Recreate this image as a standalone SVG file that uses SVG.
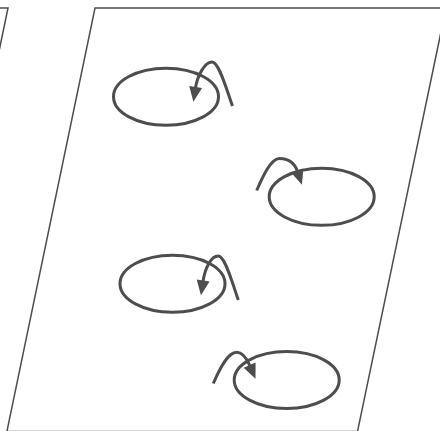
<svg xmlns="http://www.w3.org/2000/svg" width="440" height="431" viewBox="0 0 440 431">
  <style>
    .plane { fill: #ffffff; stroke: #4d4d4d; stroke-width: 1.5; }
    .vortex { fill: none; stroke: #4d4d4d; stroke-width: 3; }
    .flow { fill: none; stroke: #4d4d4d; stroke-width: 3; marker-end: url(#head); }
  </style>
  <defs>
    <marker id="head" markerUnits="userSpaceOnUse" markerWidth="16" markerHeight="14" refX="0" refY="6.5" orient="auto" overflow="visible">
      <path d="M-1,0 L14,6.5 L-1,13 Z" fill="#4d4d4d"/>
    </marker>
  </defs>
  <rect width="440" height="431" fill="#ffffff"/>
  <g id="plane-left">
    <path class="plane" d="M-400,8 L8,8 L-80,431.5 Z"/>
  </g>
  <g id="plane-main">
    <path class="plane" d="M95,8 L446,8 L357.5,431.5 L6.9,431.5 Z"/>
  </g>
  <g id="vortex-1">
    <ellipse class="vortex" cx="166" cy="96.7" rx="52.5" ry="28.5"/>
  </g>
  <g id="vortex-2">
    <ellipse class="vortex" cx="321.7" cy="196.8" rx="52.5" ry="28.5"/>
  </g>
  <g id="vortex-3">
    <ellipse class="vortex" cx="172.5" cy="283.7" rx="52.5" ry="28.5"/>
  </g>
  <g id="vortex-4">
    <ellipse class="vortex" cx="286.7" cy="380" rx="52.5" ry="28.5"/>
  </g>
  <g id="connectors">
    <path class="flow" d="M232.5,106 C226,88 219,62 212,62 C205,62 197.5,75 195.5,88"/>
    <path class="flow" d="M256.7,190.5 C263,176 271,158.5 279.5,158.5 C289,158.5 295,164 297.5,171.5"/>
    <path class="flow" d="M238.3,300 C232,282 225,256 218.3,256 C211,256 205,268 203,281.5"/>
    <path class="flow" d="M213.3,383.5 C220,368 228,352.3 236.7,352.3 C243,352.3 247,359 250,366"/>
  </g>
</svg>
